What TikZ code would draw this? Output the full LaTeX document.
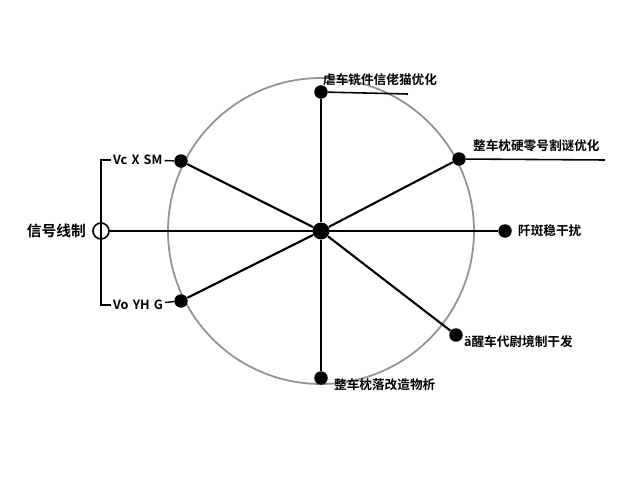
\documentclass[tikz,border=0pt]{standalone}
\usepackage{fontspec}
\setmainfont{Noto Sans CJK SC}[BoldFont={Noto Sans CJK SC Bold}]
\usetikzlibrary{positioning,calc}

\begin{document}
\begin{tikzpicture}[
    x=0.02cm, y=-0.02cm,
    dot/.style={circle, fill=black, inner sep=0pt, minimum size=13.5*0.02cm},
    hubdot/.style={circle, fill=black, inner sep=0pt, minimum size=17*0.02cm},
    opendot/.style={circle, draw=black, fill=white, line width=0.9pt, inner sep=0pt, minimum size=16*0.02cm},
    spoke/.style={line width=1.2pt},
    lbl/.style={font=\bfseries\fontsize{7.2}{8}\selectfont, inner sep=1pt},
    lbllat/.style={font=\bfseries\fontsize{7.2}{8}\selectfont, inner sep=1pt}
]
    \useasboundingbox (0,0) rectangle (640,480);
    \fill[white] (0,0) rectangle (640,480);

    % ring
    \draw[gray!85, line width=1pt] (321,231) circle[radius=153*0.02cm];

    % centre and end points
    \node[hubdot] (hub) at (321,231) {};
    \node[dot] (ntop) at (321,92) {};
    \node[dot] (nur) at (459,159) {};
    \node[dot] (nright) at (505,231) {};
    \node[dot] (nlr) at (456,335) {};
    \node[dot] (nbot) at (321,378) {};
    \node[dot] (nul) at (181,161) {};
    \node[dot] (nll) at (181,301) {};
    \node[opendot] (sig) at (101,231) {};

    % spokes
    \draw[spoke] (hub) -- (ntop);
    \draw[spoke] (hub) -- (nur);
    \draw[spoke] (sig) -- (nright);
    \draw[spoke] (hub) -- (nlr);
    \draw[spoke] (hub) -- (nbot);
    \draw[spoke] (hub) -- (nul);
    \draw[spoke] (hub) -- (nll);

    % labels
    \coordinate (topend) at (408,94);
    \coordinate (urend) at (605,160);
    \draw[line width=0.9pt] (ntop) -- (topend);
    \draw[line width=0.9pt] (nur) -- (urend);
    \node[lbl, anchor=south west] (ltop) at (321,88) {虐车铣件信佬猫优化};
    \node[lbl, anchor=south west] (lur) at (471,154) {整车枕硬零号割谜优化};
    \node[lbl, anchor=west] (lright) at (516,231) {阡斑稳干扰};
    \node[lbl, anchor=west] (llr) at (462,342) {ä醒车代尉境制干发};
    \node[lbl, anchor=west] (lbot) at (332,385) {整车枕落改造物析};
    \node[lbl, anchor=east, font=\bfseries\fontsize{8.4}{9}\selectfont] (lsig) at (88,231) {信号线制};

    % bracket on the left
    \node[lbllat, anchor=west] (lul) at (111,160) {Vc\,\,X\,\,SM};
    \node[lbllat, anchor=west] (lll) at (111,305) {Vo\,\,YH\,\,G};
    \draw[line width=0.8pt] (lul.west) -- ++(-10,0) |- (lll.west);
    \draw[line width=0.8pt] (lul) -- (nul);
    \draw[line width=0.8pt] (lll) -- (nll);
\end{tikzpicture}
\end{document}
